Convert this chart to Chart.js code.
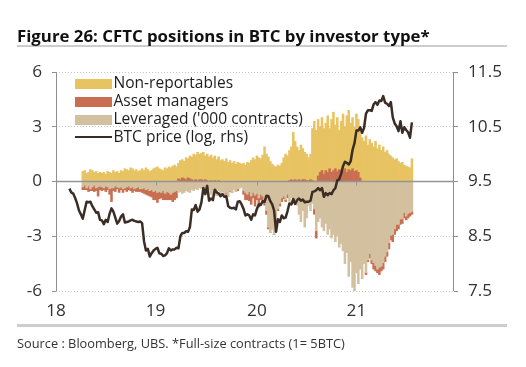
<!DOCTYPE html>
<html><head><meta charset="utf-8">
<script src="https://cdn.jsdelivr.net/npm/chart.js@4"></script>
<style>
html,body{margin:0;padding:0;background:#fff;}
#wrap{position:relative;width:526px;height:367px;overflow:hidden;background:#fff;}
#c{position:absolute;left:0;top:0;width:526px;height:367px;}
.t{position:absolute;white-space:nowrap;margin:0;padding:0;}
.rule{position:absolute;background:#cdcdcd;}
.lg{position:absolute;}
</style></head><body>
<div id="wrap">
<canvas id="c" width="526" height="367"></canvas>
<div class="rule" style="left:17px;top:45px;width:490px;height:2px"></div>
<div class="rule" style="left:17px;top:324px;width:490px;height:3px"></div>
<div id="title" class="t">Figure 26: CFTC positions in BTC by investor type*</div>
<div id="source" class="t">Source : Bloomberg, UBS. *Full-size contracts (1= 5BTC)</div>
<div id="legend"></div>
</div>
<script>
// ---------------- data (weekly, '000 contracts; BTC = log price) ----------------
const barStart = '2018-04-10';   // first weekly CFTC bar
const priceStart = '2018-02-20'; // first BTC price point

const nonReportables = [
 0.55,0.6,0.45,0.5,0.65,0.6,0.5,0.55,0.45,0.5,
 0.45,0.5,0.4,0.55,0.5,0.45,0.6,0.5,0.55,0.45,
 0.6,0.55,0.7,0.65,0.6,0.75,0.7,0.6,0.65,0.55,
 0.6,0.7,0.6,0.75,0.65,0.55,0.6,0.7,0.75,0.8,
 0.7,0.65,0.6,0.75,0.7,0.8,0.75,0.85,0.9,0.8,
 0.85,1.05,1.0,0.95,1.2,1.05,1.25,1.25,1.45,1.35,
 1.55,1.4,1.45,1.55,1.3,1.45,1.35,1.4,1.3,1.35,
 1.2,1.3,1.15,1.2,1.1,1.25,1.05,1.15,1.0,1.1,
 0.95,1.05,1.0,0.95,1.0,0.9,1.05,1.0,1.15,1.3,
 1.2,1.4,1.3,1.25,1.45,1.9,1.5,1.35,1.1,0.95,
 0.85,0.8,0.9,0.85,1.0,1.3,1.5,1.4,1.65,1.8,
 2.65,2.1,1.85,1.6,1.95,1.7,1.5,1.45,1.25,1.4,
 2.85,3.3,2.8,3.1,2.5,2.9,2.5,2.6,3.1,2.2,
 2.9,3.2,2.4,2.95,2.15,2.7,3.1,2.3,3.1,3.25,
 2.6,2.8,2.45,3.1,2.9,2.7,2.4,2.2,2.5,2.0,
 2.3,2.1,1.9,2.2,1.8,2.0,1.7,1.9,1.6,1.7,
 1.5,1.4,1.3,1.2,1.25,1.1,1.0,1.05,0.9,0.85,
 0.8,0.75,1.25];

const assetManagers = [
 -0.15,-0.25,-0.1,-0.3,-0.1,-0.2,-0.35,-0.15,-0.5,-0.2,
 -0.2,-0.1,-0.3,-0.15,-0.3,-0.75,-0.15,-0.3,-0.1,-0.25,
 -0.15,-0.2,-0.1,-0.25,-0.2,-0.15,-0.3,-0.1,-0.2,-0.25,
 -0.15,-0.2,-0.3,-0.25,-0.35,-0.3,-0.4,-0.45,-0.5,-0.55,
 -0.4,-0.3,-0.5,-0.35,-0.45,-0.4,-0.3,-0.5,-0.45,-0.4,
 0.15,0.1,0.2,0.15,0.1,0.2,0.15,0.1,0.05,0.1,
 0.05,0.1,0.1,0.05,0.1,0.05,0,0.05,0,0.05,
 0,0.05,0,0,0,-0.1,0,-0.05,0,0,
 0,-0.1,0,0,-0.2,-0.4,-0.3,-0.5,-0.45,-0.3,
 -0.6,-0.35,-0.5,-0.3,-0.4,-0.3,-0.2,-0.1,0,0,
 0,0,-0.1,-0.15,-0.2,-0.15,-0.1,-0.2,0.05,0.1,
 0.05,0.1,0.05,0.1,0.05,0.1,0.1,0.05,0.05,0.1,
 0.05,-0.3,-0.4,0.3,0.5,0.6,0.4,0.6,0.5,0.7,
 0.5,0.6,0.7,0.55,0.65,0.6,0.6,0.7,0.5,0.65,
 0.6,0.7,0.55,0.6,0.5,0.2,0,0,-0.1,-0.1,
 -0.25,-0.2,-0.35,-0.3,-0.2,-0.4,-0.25,-0.35,-0.3,-0.25,
 -0.35,-0.25,-0.4,-0.3,-0.35,-0.25,-0.3,-0.25,-0.3,-0.2,
 -0.25,-0.2,-0.15];

const leveraged = [
 -0.3,-0.2,-0.35,-0.25,-0.4,-0.3,-0.2,-0.35,-0.3,-0.25,
 -0.3,-0.35,-0.25,-0.3,-0.4,-0.35,-0.35,-0.25,-0.3,-0.35,
 -0.3,-0.4,-0.35,-0.3,-0.25,-0.35,-0.3,-0.4,-0.35,-0.3,
 -0.4,-0.4,-0.35,-0.45,-0.4,-0.5,-0.45,-0.55,-0.5,-0.6,
 -0.55,-0.6,-0.5,-0.65,-0.55,-0.6,-0.7,-0.6,-0.55,-0.5,
 -0.6,-0.55,-0.65,-0.6,-0.5,-0.55,-0.6,-0.45,-0.5,-0.4,
 -0.45,-0.35,-0.4,-0.3,-0.5,-0.6,-0.45,-0.7,-0.8,-0.6,
 -0.75,-0.5,-0.65,-0.55,-0.7,-0.6,-0.8,-0.5,-0.6,-0.45,
 -0.55,-0.4,-0.35,-0.3,-0.5,-0.6,-0.7,-0.55,-0.8,-0.6,
 -0.75,-0.65,-0.9,-0.7,-0.8,-1.0,-1.6,-2.5,-2.8,-2.6,
 -2.9,-2.4,-1.5,-1.2,-0.9,-0.8,-1.0,-0.7,-1.1,-0.9,
 -1.2,-1.0,-1.3,-1.8,-2.2,-1.6,-2.5,-2.0,-1.3,-1.6,
 -1.2,-1.5,-2.7,-2.2,-2.0,-2.5,-2.7,-2.3,-2.9,-2.6,
 -3.1,-2.9,-3.3,-3.0,-3.6,-3.4,-3.8,-4.5,-3.9,-5.2,
 -4.4,-5.8,-6.0,-5.0,-5.6,-4.8,-5.3,-4.5,-5.0,-4.3,
 -3.95,-4.3,-4.45,-4.6,-4.8,-4.7,-4.65,-4.45,-4.1,-3.85,
 -3.35,-2.95,-2.9,-2.6,-2.35,-2.35,-2.05,-2.05,-1.7,-1.9,
 -1.75,-1.7,-1.65];

const btcLogPrice = [
 9.37,9.30,9.28,9.20,9.10,8.97,8.90,8.82,8.98,9.13,
 9.12,9.13,9.05,8.99,8.93,8.94,8.80,8.79,8.72,8.80,
 8.76,8.91,9.01,8.95,8.84,8.73,8.78,8.86,8.90,8.75,
 8.76,8.77,8.79,8.80,8.78,8.77,8.76,8.77,8.74,8.41,
 8.24,8.27,8.13,8.19,8.24,8.27,8.29,8.19,8.18,8.14,
 8.15,8.19,8.28,8.24,8.26,8.26,8.29,8.28,8.50,8.56,
 8.56,8.59,8.58,8.67,8.99,8.98,9.07,8.95,8.99,9.12,
 9.38,9.27,9.42,9.15,9.19,9.16,9.35,9.30,9.28,9.23,
 9.27,9.22,9.23,9.05,9.02,9.01,9.02,8.99,9.13,9.14,
 9.08,9.00,8.88,8.90,8.88,8.80,8.90,8.88,9.00,9.08,
 9.07,9.14,9.13,9.24,9.23,9.14,9.08,8.97,8.58,8.81,
 8.76,8.88,8.83,8.84,8.96,9.10,9.08,9.18,9.09,9.16,
 9.19,9.15,9.17,9.12,9.13,9.13,9.15,9.31,9.32,9.34,
 9.38,9.34,9.38,9.22,9.29,9.25,9.29,9.27,9.34,9.38,
 9.52,9.54,9.64,9.78,9.86,9.84,9.81,9.87,10.08,10.20,
 10.43,10.43,10.49,10.39,10.48,10.74,10.80,10.80,10.79,10.91,
 10.95,10.90,10.98,10.97,11.06,10.94,10.92,10.88,10.95,10.67,
 10.56,10.51,10.42,10.60,10.39,10.49,10.44,10.40,10.30,10.58];

const leftTicks = [-6, -3, 0, 3, 6];
const rightTicks = [7.5, 8.5, 9.5, 10.5, 11.5];
const seriesNames = ['Non-reportables', 'Asset managers', "Leveraged ('000 contracts)", 'BTC price (log, rhs)'];

// weekly category axis (CFTC report Tuesdays), 2018-2021
const weeks = [];
for (let d = new Date(Date.UTC(2018,0,2)); d <= new Date(Date.UTC(2021,11,28)); d.setUTCDate(d.getUTCDate()+7)) {
  weeks.push(d.toISOString().slice(0,10));
}
function pad(arr, start) {
  const s = weeks.indexOf(start);
  return weeks.map((_, i) => (i >= s && i - s < arr.length) ? arr[i - s] : null);
}
function isYearStart(i) { const w = weeks[i]; return w.slice(5,7) === '01' && +w.slice(8) <= 7; }

// ---------------- styles ----------------
const FAMILY = '"Open Sans", "Noto Sans", sans-serif';
const YEL = '#E8C362', RED = '#C96E50', TAN = '#D3C09F', BROWN = '#3B2C26';
const TXT = '#333333', AXIS = '#8f8f8f';

const mctx = document.createElement('canvas').getContext('2d');
function fitSize(text, weight, target) {
  mctx.font = weight + ' 100px ' + FAMILY;
  return 100 * target / mctx.measureText(text).width;
}
function place(el, x, baseline, size, weight, color) {
  mctx.font = weight + ' ' + size + 'px ' + FAMILY;
  const m = mctx.measureText('Hg');
  const a = m.fontBoundingBoxAscent, d = m.fontBoundingBoxDescent;
  el.style.font = weight + ' ' + size + 'px ' + FAMILY;
  el.style.lineHeight = size + 'px';
  el.style.left = x + 'px';
  el.style.top = (baseline - (size - (a + d)) / 2 - a) + 'px';
  el.style.color = color;
}

const titleEl = document.getElementById('title');
place(titleEl, 17, 43.3, fitSize(titleEl.textContent, 700, 413), 700, '#111');
const srcEl = document.getElementById('source');
place(srcEl, 17, 348, fitSize(srcEl.textContent, 400, 328), 400, TXT);

// legend (inside plot, top-left)
const lgSize = fitSize(seriesNames[2], 400, 189.6);
const lgColors = [YEL, RED, TAN, BROWN];
const lgCenters = [83.5, 101.5, 119.5, 137];
const legend = document.getElementById('legend');
seriesNames.forEach((name, k) => {
  const c = lgCenters[k];
  const sw = document.createElement('div');
  sw.className = 'lg';
  sw.style.left = '75px'; sw.style.width = '36.5px';
  sw.style.background = lgColors[k];
  if (k < 3) { sw.style.top = (c - 5) + 'px'; sw.style.height = '10px'; }
  else { sw.style.top = (c - 1.25) + 'px'; sw.style.height = '2.5px'; }
  legend.appendChild(sw);
  const tx = document.createElement('div');
  tx.className = 't'; tx.textContent = name;
  place(tx, 113.5, c + 5.5, lgSize, 400, '#1e1e1e');
  legend.appendChild(tx);
});

const tickSize = fitSize('11.5', 400, 34);
Chart.defaults.font.family = FAMILY;

// axis lines, solid zero line and year ticks on it
const axesPlugin = {
  id: 'axesLines',
  beforeDatasetsDraw(chart) {
    const {ctx, chartArea: a} = chart;
    ctx.save();
    ctx.strokeStyle = AXIS; ctx.lineWidth = 1;
    ctx.beginPath();
    ctx.moveTo(Math.round(a.left) + 0.5, a.top); ctx.lineTo(Math.round(a.left) + 0.5, a.bottom);
    ctx.moveTo(Math.round(a.right) - 0.5, a.top); ctx.lineTo(Math.round(a.right) - 0.5, a.bottom);
    ctx.stroke();
    ctx.restore();
  },
  afterDatasetDraw(chart, args) {
    if (args.index !== 0) return;
    const {ctx, chartArea: a, scales: {x, y}} = chart;
    const y0 = y.getPixelForValue(0);
    ctx.save();
    ctx.strokeStyle = '#959595'; ctx.lineWidth = 1.5;
    ctx.beginPath(); ctx.moveTo(a.left, y0); ctx.lineTo(a.right, y0); ctx.stroke();
    ctx.lineWidth = 1;
    ctx.beginPath();
    weeks.forEach((w, i) => {
      if (i > 0 && isYearStart(i)) {
        const px = Math.round(x.getPixelForValue(i)) + 0.5;
        ctx.moveTo(px, y0); ctx.lineTo(px, y0 + 4);
      }
    });
    ctx.stroke();
    ctx.restore();
  }
};

const barCommon = {barPercentage: 1, categoryPercentage: 1, borderWidth: 0, yAxisID: 'y'};

new Chart(document.getElementById('c'), {
  type: 'bar',
  data: {
    labels: weeks,
    datasets: [
      Object.assign({label: seriesNames[2], data: pad(leveraged, barStart), backgroundColor: TAN}, barCommon),
      Object.assign({label: seriesNames[1], data: pad(assetManagers, barStart), backgroundColor: RED}, barCommon),
      Object.assign({label: seriesNames[0], data: pad(nonReportables, barStart), backgroundColor: YEL}, barCommon),
      {type: 'line', label: seriesNames[3], data: pad(btcLogPrice, priceStart), yAxisID: 'y2',
       borderColor: BROWN, backgroundColor: BROWN, borderWidth: 2.5, pointRadius: 0, tension: 0,
       fill: false, spanGaps: false, order: -1, borderJoinStyle: 'round'}
    ]
  },
  options: {
    responsive: false, animation: false, devicePixelRatio: 1,
    layout: {padding: {top: 72, left: 0, right: 0, bottom: 0}},
    plugins: {legend: {display: false}, tooltip: {enabled: false}, title: {display: false}},
    scales: {
      x: {
        type: 'category', stacked: true, offset: false,
        grid: {display: false, drawTicks: false}, border: {display: false},
        ticks: {autoSkip: false, maxRotation: 0, minRotation: 0, padding: 10, color: TXT,
          font: {size: tickSize},
          callback: function(v, i) { return isYearStart(i) ? weeks[i].slice(2,4) : null; }},
        afterFit: s => { s.height = 367 - 291; }
      },
      y: {
        position: 'left', stacked: true, min: -6, max: 6,
        grid: {color: '#c4c4c4', lineWidth: 1, drawTicks: true, tickLength: 4, tickColor: AXIS, tickWidth: 1},
        border: {display: false, dash: [1, 2]},
        ticks: {padding: 10, color: TXT, font: {size: tickSize}},
        afterBuildTicks: s => { s.ticks = leftTicks.map(v => ({value: v})); },
        afterFit: s => { s.width = 56; }
      },
      y2: {
        position: 'right', min: 7.5, max: 11.5,
        grid: {drawOnChartArea: false, drawTicks: true, tickLength: 4, tickColor: AXIS, color: AXIS},
        border: {display: false},
        ticks: {padding: 10, color: TXT, font: {size: tickSize}, callback: v => Number(v).toFixed(1)},
        afterBuildTicks: s => { s.ticks = rightTicks.map(v => ({value: v})); },
        afterFit: s => { s.width = 526 - 454; }
      }
    }
  },
  plugins: [axesPlugin]
});
</script>
</body></html>
